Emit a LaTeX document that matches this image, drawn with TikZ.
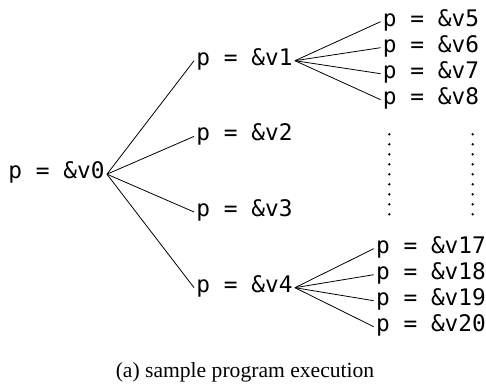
\documentclass[tikz,border=0pt]{standalone}
\usepackage{fontspec}
\newfontfamily\codefont{DejaVu Sans Mono}
\newfontfamily\capfont{Liberation Serif}
\begin{document}
\begin{tikzpicture}[x=0.5pt,y=-0.5pt,
  lbl/.style={font=\codefont\fontsize{11.4}{14}\selectfont, inner xsep=1pt, inner ysep=1pt},
  edge/.style={draw=black, line width=0.4pt},
  dotmark/.style={circle, fill=black, inner sep=0pt, minimum size=1.3pt}]
\useasboundingbox (0,0) rectangle (486,389);
% root
\node[lbl, anchor=mid] (v0) at (56.5,174.2) {p = \&v0};
% level 1
\node[lbl, anchor=mid] (v1) at (244.5,60.7) {p = \&v1};
\node[lbl, anchor=mid] (v2) at (244.5,136.4) {p = \&v2};
\node[lbl, anchor=mid] (v3) at (244.5,212.0) {p = \&v3};
\node[lbl, anchor=mid] (v4) at (244.5,287.7) {p = \&v4};
% level 2 under v1
\node[lbl, anchor=mid] (v5) at (431,21.7) {p = \&v5};
\node[lbl, anchor=mid] (v6) at (431,47.7) {p = \&v6};
\node[lbl, anchor=mid] (v7) at (431,73.7) {p = \&v7};
\node[lbl, anchor=mid] (v8) at (431,99.7) {p = \&v8};
% level 2 under v4
\node[lbl, anchor=mid] (v17) at (431,248.7) {p = \&v17};
\node[lbl, anchor=mid] (v18) at (431,274.7) {p = \&v18};
\node[lbl, anchor=mid] (v19) at (431,300.7) {p = \&v19};
\node[lbl, anchor=mid] (v20) at (431,326.7) {p = \&v20};
% edges
\foreach \c in {v1,v2,v3,v4} \draw[edge] (v0.mid east) -- (\c.mid west);
\foreach \c in {v5,v6,v7,v8} \draw[edge] (v1.mid east) -- (\c.mid west);
\foreach \c in {v17,v18,v19,v20} \draw[edge] (v4.mid east) -- (\c.mid west);
% vertical dots
\foreach \i in {0,...,8} {
  \node[dotmark] (dl\i) at (389.3,134.3+10*\i) {};
  \node[dotmark] (dr\i) at (472.7,134.3+10*\i) {};
}
% caption
\node[font=\capfont\fontsize{10.8}{13}\selectfont, inner sep=0pt] (cap) at (245,372) {(a) sample program execution};
\end{tikzpicture}
\end{document}
